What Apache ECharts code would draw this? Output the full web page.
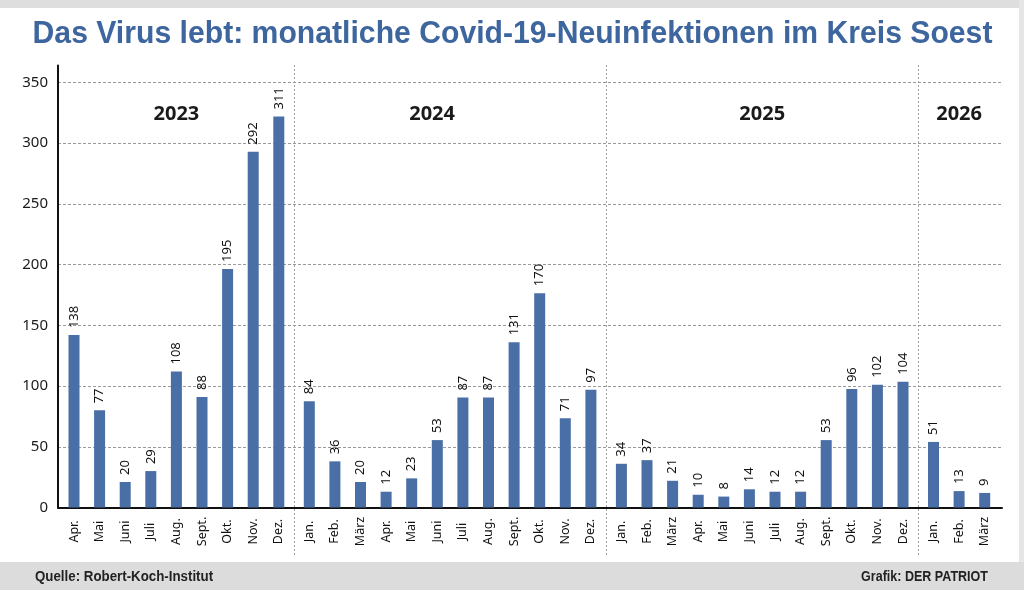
<!DOCTYPE html>
<html>
<head>
<meta charset="utf-8">
<script src="https://cdn.jsdelivr.net/npm/echarts@6/dist/echarts.min.js"></script>
<style>html,body{margin:0;padding:0;background:#fff}#c{width:1024px;height:590px}</style>
</head>
<body>
<div id="c"></div>
<script>
// ---- data ----
const years = ['2023', '2024', '2025', '2026'];
const months2023 = ['Apr.', 'Mai', 'Juni', 'Juli', 'Aug.', 'Sept.', 'Okt.', 'Nov.', 'Dez.'];
const months2024 = ['Jan.', 'Feb.', 'März', 'Apr.', 'Mai', 'Juni', 'Juli', 'Aug.', 'Sept.', 'Okt.', 'Nov.', 'Dez.'];
const months2025 = ['Jan.', 'Feb.', 'März', 'Apr.', 'Mai', 'Juni', 'Juli', 'Aug.', 'Sept.', 'Okt.', 'Nov.', 'Dez.'];
const months2026 = ['Jan.', 'Feb.', 'März'];
// printed values
const labels2023 = [138, 77, 20, 29, 108, 88, 195, 292, 311];
const labels2024 = [84, 36, 20, 12, 23, 53, 87, 87, 131, 170, 71, 97];
const labels2025 = [34, 37, 21, 10, 8, 14, 12, 12, 53, 96, 102, 104];
const labels2026 = [51, 13, 9];
// bar heights as drawn in the picture
const bars2023 = [142, 80, 21, 30, 112, 91, 196.5, 293, 322];
const bars2024 = [87.5, 38, 21, 13, 24, 55.5, 90.5, 90.5, 136, 176.5, 73.5, 97];
const bars2025 = [36, 39, 22, 10.5, 9, 15, 13, 13, 55.5, 97.5, 101, 103.5];
const bars2026 = [54, 13.5, 12];
const yTicks = { min: 0, max: 350, interval: 50 };

// ---- layout ----
const W = 1024, H = 590;
const plotLeft = 58, plotRight = 1002, plotBottom = 507.5;
const yMaxAxis = 364;                 // axis line runs a little above 350
const pxPerUnit = 425 / 350;
const plotTop = plotBottom - yMaxAxis * pxPerUnit;
const band = 25.6, yearGap = 4.9, firstLeft = 61.2;

const monthsAll = [months2023, months2024, months2025, months2026];
const labelsAll = [labels2023, labels2024, labels2025, labels2026];
const barsAll = [bars2023, bars2024, bars2025, bars2026];

const blue = '#4a6ea6';
const FONT = '"Noto Sans", sans-serif';
const NARROW = '"Liberation Sans", Arial, sans-serif';

const grids = [{ left: plotLeft, width: plotRight - plotLeft, top: plotTop, height: plotBottom - plotTop }];
const xAxes = [{
  gridIndex: 0, type: 'value', min: 0, max: 1,
  axisLine: { show: true, onZero: false, lineStyle: { color: '#111', width: 2 } },
  axisTick: { show: false }, axisLabel: { show: false }, splitLine: { show: false }
}];
const yAxes = [{
  gridIndex: 0, type: 'value', min: yTicks.min, max: yMaxAxis, interval: yTicks.interval,
  axisLine: { show: true, lineStyle: { color: '#111', width: 2 } },
  axisTick: { show: false },
  axisLabel: { showMaxLabel: false, color: '#1a1a1a', fontSize: 15, fontFamily: FONT, margin: 10 },
  splitLine: { show: true, showMaxLine: false, lineStyle: { color: '#9a9a9a', type: [3, 2], width: 1 } }
}];
const series = [];
const graphics = [];
const gridBounds = [];

let offset = 0;
monthsAll.forEach((months, i) => {
  const left = firstLeft + offset * band + i * yearGap;
  const width = months.length * band;
  gridBounds.push([left, left + width]);
  offset += months.length;
  grids.push({ left: left, width: width, top: plotTop, height: plotBottom - plotTop });
  xAxes.push({
    gridIndex: i + 1, type: 'category', data: months,
    axisLine: { show: false }, axisTick: { show: false },
    axisLabel: { rotate: 90, align: 'center', verticalAlign: 'middle', margin: 24,
      color: '#111', fontSize: 12.5, fontFamily: FONT, interval: 0 },
    splitLine: { show: false }
  });
  yAxes.push({ gridIndex: i + 1, type: 'value', min: 0, max: yMaxAxis, show: false, splitLine: { show: false } });
  const lbl = labelsAll[i];
  series.push({
    type: 'bar', xAxisIndex: i + 1, yAxisIndex: i + 1,
    data: barsAll[i], barWidth: 11,
    itemStyle: { color: blue },
    label: {
      show: true, position: 'top', rotate: 90, align: 'left', verticalAlign: 'middle',
      distance: 7, color: '#111', fontSize: 13, fontFamily: FONT,
      formatter: p => String(lbl[p.dataIndex])
    },
    silent: true, animation: false
  });
});

// separators between years
for (let i = 0; i < gridBounds.length - 1; i++) {
  const x = Math.round((gridBounds[i][1] + gridBounds[i + 1][0]) / 2) + 0.5;
  graphics.push({ type: 'line', shape: { x1: x, y1: 65, x2: x, y2: 557 },
    style: { stroke: '#a0a0a0', lineWidth: 1, lineDash: [2, 2] }, z: 1 });
}
// year labels
years.forEach((y, i) => {
  let cx = (gridBounds[i][0] + gridBounds[i][1]) / 2;
  if (i === 1) cx -= 18;
  graphics.push({ type: 'text', x: cx, y: 114,
    style: { text: y, fill: '#1a1a1a', font: 'bold 20px "Noto Sans", sans-serif', textAlign: 'center', textVerticalAlign: 'middle' }, z: 10 });
});
// frame bits
graphics.push({ type: 'rect', shape: { x: 0, y: 0, width: W, height: 8 }, style: { fill: '#dedede' }, z: 0 });
graphics.push({ type: 'rect', shape: { x: 1019, y: 0, width: 5, height: H }, style: { fill: '#e6e6e6' }, z: 0 });
graphics.push({ type: 'rect', shape: { x: 0, y: 562, width: W, height: 28 }, style: { fill: '#dcdcdc' }, z: 0 });
// title
graphics.push({ type: 'text', x: 512.5, y: 34, scaleX: 0.973,
  style: { text: 'Das Virus lebt: monatliche Covid-19-Neuinfektionen im Kreis Soest', fill: '#3d659e',
    font: 'bold 31px ' + NARROW, textAlign: 'center', textVerticalAlign: 'middle' }, z: 10 });
// footer
graphics.push({ type: 'text', x: 35, y: 577, scaleX: 0.95,
  style: { text: 'Quelle: Robert-Koch-Institut', fill: '#222', font: 'bold 14px ' + NARROW, textAlign: 'left', textVerticalAlign: 'middle' }, z: 10 });
graphics.push({ type: 'text', x: 988, y: 577, scaleX: 0.895,
  style: { text: 'Grafik: DER PATRIOT', fill: '#222', font: 'bold 14px ' + NARROW, textAlign: 'right', textVerticalAlign: 'middle' }, z: 10 });

const chart = echarts.init(document.getElementById('c'), null, { renderer: 'canvas' });
chart.setOption({
  animation: false,
  backgroundColor: '#fff',
  grid: grids,
  xAxis: xAxes,
  yAxis: yAxes,
  series: series,
  graphic: graphics
});
</script>
</body>
</html>
